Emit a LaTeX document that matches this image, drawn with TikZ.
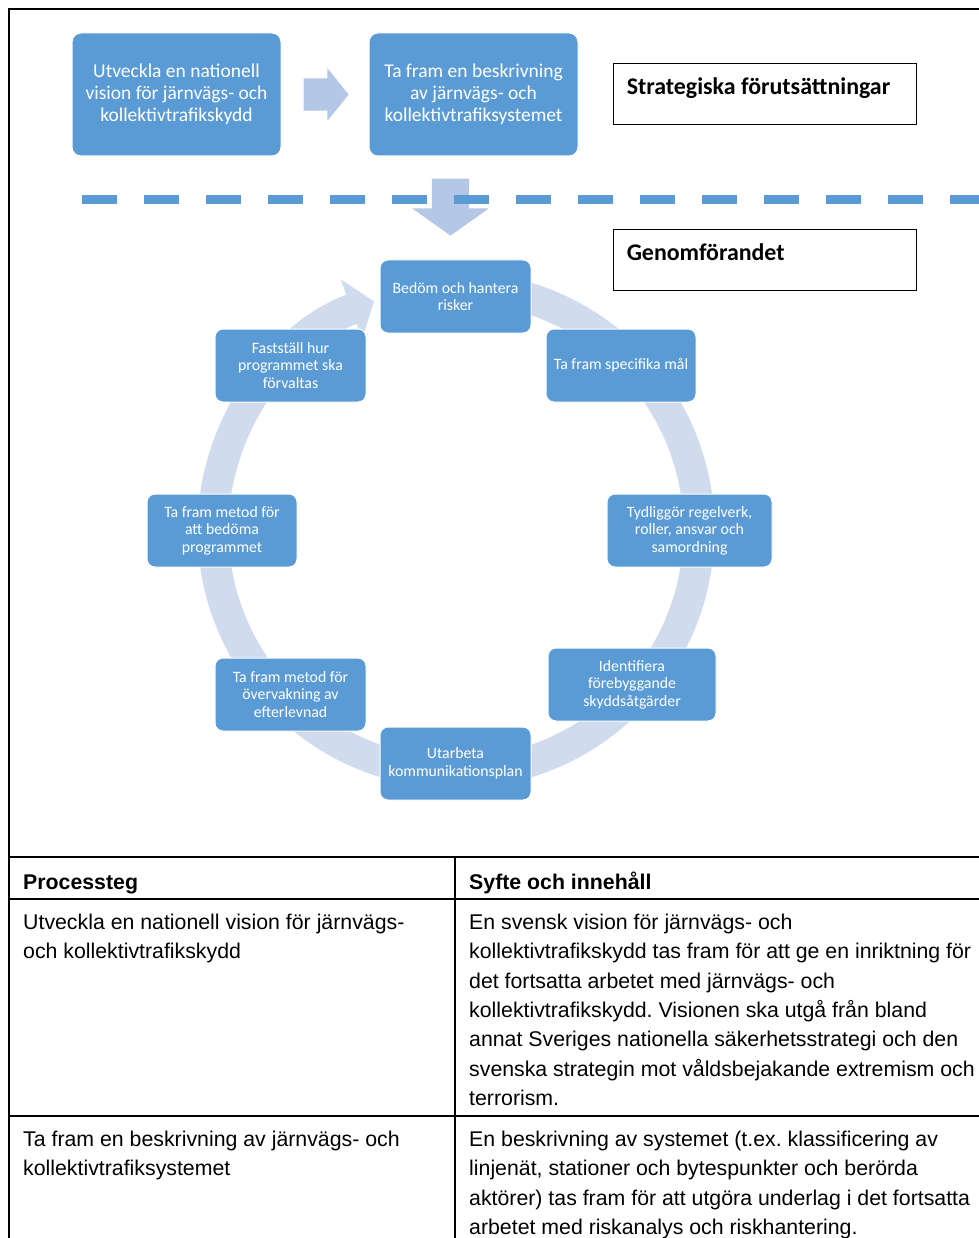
\documentclass[tikz,border=0pt]{standalone}
\usepackage{fontspec}
\setmainfont{Liberation Sans}
\newfontfamily\boxfont{Carlito}
\usetikzlibrary{positioning,shapes.arrows,arrows.meta}
\frenchspacing
\definecolor{stepblue}{RGB}{91,155,213}
\definecolor{arrowblue}{RGB}{180,199,231}
\definecolor{ringblue}{RGB}{208,220,238}
\tikzset{
	block base/.style={draw=white, line width=1pt, fill=stepblue, rectangle, rounded corners=9pt, text=white, align=center, inner sep=2pt},
	top block/.style={block base, minimum width=209pt, minimum height=123pt, font=\boxfont\fontsize{19.5}{21.7}\selectfont},
	cycle block/.style={block base, minimum width=151pt, minimum height=73pt, rounded corners=8pt, font=\boxfont\fontsize{15.8}{17.5}\selectfont},
	phase box/.style={draw=black, line width=0.9pt, rectangle, minimum width=303pt, minimum height=61pt},
	phase text/.style={anchor=base west, inner sep=0pt, font=\boxfont\bfseries\fontsize{23.9}{26}\selectfont},
	block arrow/.style={single arrow, fill=arrowblue, draw=none, inner xsep=0pt},
	% multi-line cells are placed at the baseline of their last line
	cell text/.style={anchor=base west, inner sep=0pt, align=left, font=\fontsize{21.3}{29.3}\selectfont},
	cell head/.style={cell text, font=\bfseries\fontsize{21.3}{29.3}\selectfont},
	table line/.style={line width=1.6pt},
}

\begin{document}
\begin{tikzpicture}[x=1pt,y=-1pt]
	\useasboundingbox (0,0) rectangle (978,1238);

	% Strategic part
	\node [top block] (vision) at (176.5,94.5) {Utveckla en nationell\\vision för järnvägs- och\\kollektivtrafikskydd};
	\node [block arrow,inner ysep=16pt,minimum height=45pt,minimum width=52pt,single arrow head extend=10pt,single arrow tip angle=102,right=22pt of vision] (next) {};
	\node [top block,right=87pt of vision] (system) {Ta fram en beskrivning\\av järnvägs- och\\kollektivtrafiksystemet};
	\node [phase box] (strat) at (764.5,93.5) {};
	\node [phase text] at ([xshift=14pt,yshift=-32pt]strat.north west) {Strategiska förutsättningar};

	% Separator
	\node [block arrow,inner ysep=18.5pt,minimum height=57pt,minimum width=76pt,single arrow head extend=19.5pt,single arrow tip angle=109,rotate=-90] (down) at (450.5,200.5) {};
	\coordinate (sep start) at (82,199.5);
	\coordinate (sep end) at (990,199.5);
	\draw [stepblue,line width=8.5pt,dash pattern=on 35pt off 27pt] (sep start) -- (sep end);

	\node [phase box] (genom) at (764.5,260) {};
	\node [phase text] at ([xshift=14pt,yshift=-31pt]genom.north west) {Genomförandet};

	% Cycle
	\begin{scope}[shift={(456,530)},y=1pt]
	\draw [ringblue,line width=31pt,-{Triangle[width=62pt,length=24pt]}] (80:243) arc [start angle=80,end angle=-250.3,radius=243];
	\end{scope}
	\node [cycle block] (risk) at (455.5,296.5) {Bedöm och hantera\\risker};
	\node [cycle block,minimum width=150pt] (goals) at (621,365.5) {Ta fram specifika mål};
	\node [cycle block,minimum width=165pt] (roles) at (689.5,530.5) {Tydliggör regelverk,\\roller, ansvar och\\samordning};
	\node [cycle block,minimum width=168pt] (measures) at (632,684.5) {Identifiera\\förebyggande\\skyddsåtgärder};
	\node [cycle block] (comm) at (455.5,763.5) {Utarbeta\\kommunikationsplan};
	\node [cycle block] (monitor) at (290.5,694.5) {Ta fram metod för\\övervakning av\\efterlevnad};
	\node [cycle block,minimum width=150pt] (evaluate) at (222,530.5) {Ta fram metod för\\att bedöma\\programmet};
	\node [cycle block] (manage) at (290.5,365.5) {Fastställ hur\\programmet ska\\förvaltas};

	% Frame and table
	\draw [line width=2pt] (990,9) -- (9,9) -- (9,1250);
	\draw [table line] (9,857) -- (990,857);
	\draw [table line] (9,899) -- (990,899);
	\draw [table line] (9,1116) -- (990,1116);
	\draw [table line] (455,857) -- (455,1250);

	\node [cell head] (head step) at (23,889) {Processteg};
	\node [cell head] (head aim) at (469,889) {Syfte och innehåll};
	\node [cell text] (step one) at (23,958.8) {Utveckla en nationell vision för järnvägs-\\och kollektivtrafikskydd};
	\node [cell text] (aim one) at (469,1105.3) {En svensk vision för järnvägs- och\\kollektivtrafikskydd tas fram för att ge en inriktning för\\det fortsatta arbetet med järnvägs- och\\kollektivtrafikskydd. Visionen ska utgå från bland\\annat Sveriges nationella säkerhetsstrategi och den\\svenska strategin mot våldsbejakande extremism och\\terrorism.};
	\node [cell text] (step two) at (23,1175.8) {Ta fram en beskrivning av järnvägs- och\\kollektivtrafiksystemet};
	\node [cell text] (aim two) at (469,1234.4) {En beskrivning av systemet (t.ex. klassificering av\\linjenät, stationer och bytespunkter och berörda\\aktörer) tas fram för att utgöra underlag i det fortsatta\\arbetet med riskanalys och riskhantering.};
\end{tikzpicture}
\end{document}
